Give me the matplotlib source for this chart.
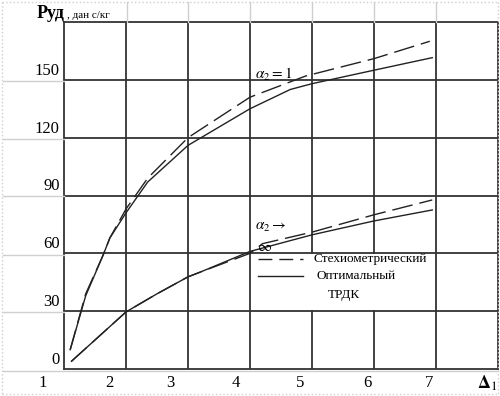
import matplotlib.pyplot as plt
from matplotlib.lines import Line2D

plt.rcParams['font.family'] = ['Liberation Serif', 'DejaVu Serif']

# upper pair, alpha2 = 1
x_st_up = [1.1, 1.35, 1.63, 1.74, 2.0, 2.35, 3.0, 4.0, 4.9, 6.0, 6.9]
y_st_up = [10, 39, 59, 68, 83, 99, 120, 141, 152, 161, 170]
x_opt_up = [1.1, 1.35, 1.63, 1.74, 2.0, 2.35, 3.0, 4.0, 4.65, 5.0, 6.0, 6.94]
y_opt_up = [10, 38, 59, 68, 81, 97, 116, 135, 145, 148, 155, 161.5]

# lower pair, alpha2 -> inf
x_st_low = [1.12, 2.0, 2.5, 3.0, 3.2, 4.0, 4.2, 5.0, 6.0, 6.94]
y_st_low = [4, 29.6, 39, 47.8, 50.3, 60, 65, 71, 80, 87.7]
x_opt_low = [1.12, 2.0, 2.5, 3.0, 3.2, 4.0, 5.0, 6.0, 6.94]
y_opt_low = [4, 29.6, 39, 47.8, 50.3, 61, 69.6, 76.8, 82.5]

y_ticks = [0, 30, 60, 90, 120, 150]
x_labels = ['1', '2', '3', '4', '5', '6', '7']
x_lab_pos = [0.66, 1.73, 2.71, 3.77, 4.81, 5.9, 6.89]

fig = plt.figure(figsize=(5, 3.96), dpi=100)
ax = fig.add_axes([64 / 500, 27 / 396, 434 / 500, 347 / 396])
ax.set_xlim(1, 8)
ax.set_ylim(0, 180)
ax.set_xticks([])
ax.set_yticks([])
for s in ax.spines.values():
    s.set_color('#333333')
    s.set_linewidth(1.3)

grid = '#333333'
for xv in range(2, 8):
    if xv in (5, 6):
        # legend cell has no inner lines
        ax.plot([xv, xv], [0, 30], color=grid, lw=1.3)
        ax.plot([xv, xv], [60, 180], color=grid, lw=1.3)
    else:
        ax.plot([xv, xv], [0, 180], color=grid, lw=1.3)
for yv in range(30, 180, 30):
    ax.axhline(yv, color=grid, lw=1.3)

dash = (15, 5)
ax.plot(x_st_up, y_st_up, color='#222222', lw=1, dashes=dash)
ax.plot(x_opt_up, y_opt_up, color='#222222', lw=1)
ax.plot(x_st_low, y_st_low, color='#222222', lw=1, dashes=dash)
ax.plot(x_opt_low, y_opt_low, color='#222222', lw=1)

ax.text(4.08, 153, r'$\alpha_2 = 1$', fontsize=11, ha='left', va='center',
        math_fontfamily='stix')
ax.text(4.08, 73.5, r'$\alpha_2 \rightarrow$', fontsize=11, ha='left', va='center',
        math_fontfamily='stix')
ax.text(4.12, 63, r'$\infty$', fontsize=11, ha='left', va='center',
        math_fontfamily='stix')

# legend block
ax.plot([4.13, 4.85], [57, 57], color='#222222', lw=1, dashes=(10, 5))
ax.plot([4.13, 4.85], [48.5, 48.5], color='#222222', lw=1)
ax.text(5.02, 57, 'Стехиометрический', fontsize=9.5, va='center')
ax.text(5.08, 48.5, 'Оптимальный', fontsize=9.5, va='center')
ax.text(5.25, 38.5, 'ТРДК', fontsize=9.5, va='center')

# y labels in left column, x labels in bottom row
for yv in y_ticks:
    ax.text(-0.01, yv + 2.6, str(yv), transform=ax.get_yaxis_transform(),
            ha='right', va='baseline', fontsize=12)
for xp, lab in zip(x_lab_pos, x_labels):
    ax.text(xp, -0.04, lab, transform=ax.get_xaxis_transform(),
            ha='center', va='center', fontsize=12)
ax.text(7.82, -0.04, r'$\mathbf{\Delta}_1$', transform=ax.get_xaxis_transform(),
        ha='center', va='center', fontsize=13, math_fontfamily='stix')

fig.text(37 / 500, 1 - 14 / 396, 'Руд', fontsize=13, fontweight='bold',
         ha='left', va='center')
fig.text(67 / 500, 1 - 15 / 396, ', дан с/кг', fontsize=8,
         ha='left', va='center')

# light table borders outside the plot area
light = '#cfcfcf'
def fline(x0, y0, x1, y1, ls='-'):
    fig.add_artist(Line2D([x0 / 500, x1 / 500], [1 - y0 / 396, 1 - y1 / 396],
                          color=light, lw=1, ls=ls))

for py in [81, 139, 196, 255, 312]:
    fline(3, py, 64, py)
fline(3, 371, 498, 371)
for px in [127, 188, 250, 312, 374, 436]:
    fline(px, 2, px, 22)
fline(2, 2, 498, 2, ':')
fline(2, 394, 498, 394, ':')
fline(2, 2, 2, 394, ':')
fline(498, 2, 498, 394, ':')

fig.savefig('out.png', dpi=100)
